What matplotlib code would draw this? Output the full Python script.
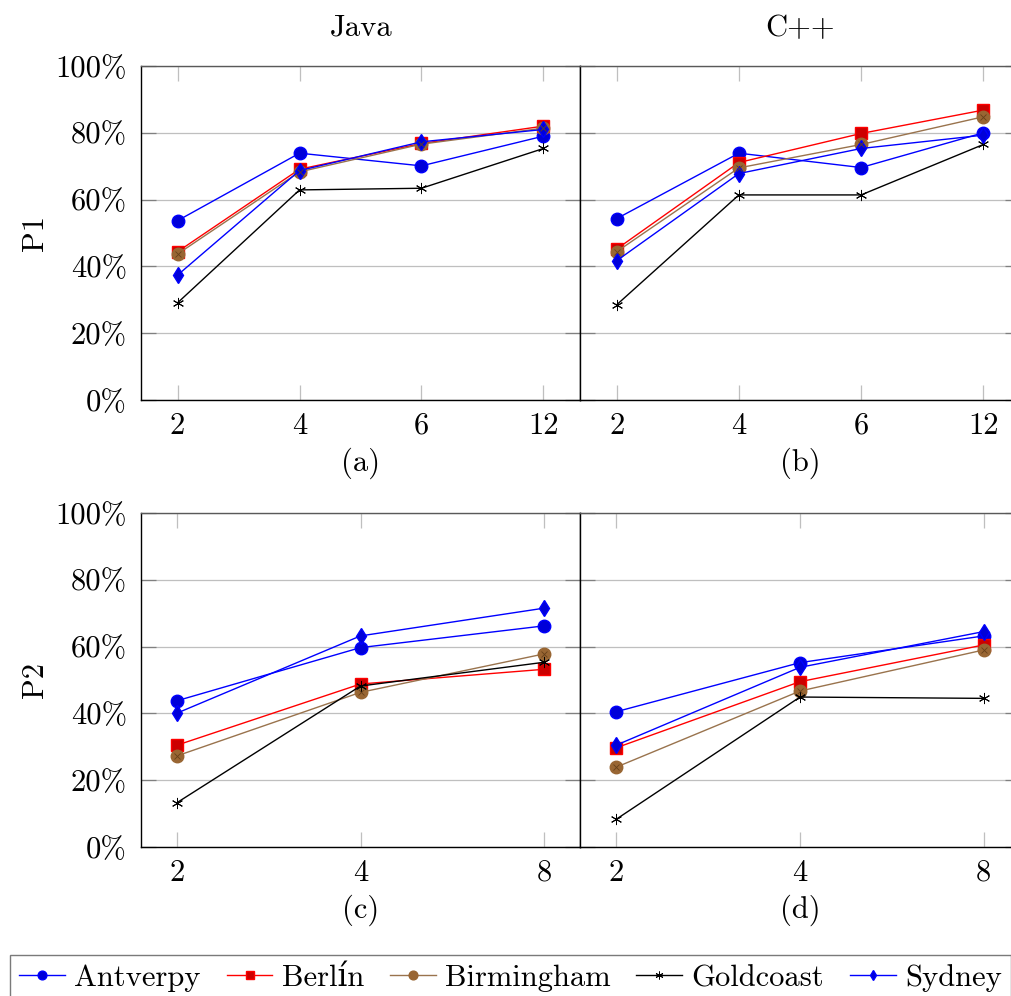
import numpy as np
import matplotlib
matplotlib.use('Agg')
import matplotlib.pyplot as plt
from matplotlib.lines import Line2D

plt.rcParams['font.family'] = ['cmr10', 'DejaVu Serif']
plt.rcParams['mathtext.fontset'] = 'cm'
plt.rcParams['axes.formatter.use_mathtext'] = True

# data (in %)
cities = ['Antverpy', 'Berlín', 'Birmingham', 'Goldcoast', 'Sydney']
p1_labels = ['2', '4', '6', '12']
p2_labels = ['2', '4', '8']

java_p1 = {
    'Antverpy':   [53.7, 73.9, 70.1, 79.0],
    'Berlín':     [44.4, 69.1, 76.8, 82.0],
    'Birmingham': [43.7, 68.3, 76.6, 81.4],
    'Goldcoast':  [29.1, 62.9, 63.4, 75.3],
    'Sydney':     [37.4, 68.7, 77.3, 81.0],
}
cpp_p1 = {
    'Antverpy':   [54.3, 73.9, 69.6, 80.0],
    'Berlín':     [45.2, 71.1, 79.8, 86.8],
    'Birmingham': [44.4, 69.5, 76.5, 84.8],
    'Goldcoast':  [28.5, 61.4, 61.4, 76.5],
    'Sydney':     [41.7, 67.8, 75.3, 79.3],
}
java_p2 = {
    'Antverpy':   [43.8, 59.7, 66.2],
    'Berlín':     [30.5, 48.8, 53.2],
    'Birmingham': [27.3, 46.3, 57.8],
    'Goldcoast':  [13.3, 48.2, 55.3],
    'Sydney':     [40.1, 63.2, 71.5],
}
cpp_p2 = {
    'Antverpy':   [40.5, 55.2, 63.2],
    'Berlín':     [29.7, 49.5, 60.5],
    'Birmingham': [23.9, 46.7, 59.0],
    'Goldcoast':  [8.3, 44.9, 44.5],
    'Sydney':     [30.5, 53.8, 64.5],
}

# styles
styles = {
    'Antverpy':   dict(color=(0, 0, 1), marker='o', mfc=(0, 0, 0.85), mec=(0, 0, 1), ms=9, mew=1.0),
    'Berlín':     dict(color=(1, 0, 0), marker='s', mfc=(0.8, 0, 0), mec=(1, 0, 0), ms=8.5, mew=1.0),
    'Birmingham': dict(color=(0.6, 0.45, 0.3), marker='o', mfc=(0.6, 0.4, 0.2), mec=(0.6, 0.4, 0.2), ms=9, mew=1.0),
    'Goldcoast':  dict(color='black', marker=(6, 2, 0), mfc='black', mec='black', ms=8, mew=0.7),
    'Sydney':     dict(color=(0, 0, 1), marker='d', mfc=(0, 0, 0.85), mec=(0, 0, 1), ms=8, mew=1.0),
}

FS = 22
W, H = 1011, 996
fig = plt.figure(figsize=(W / 100, H / 100), dpi=100)


def make_ax(x0, y0, x1, y1):
    return fig.add_axes([x0 / W, 1 - y1 / H, (x1 - x0) / W, (y1 - y0) / H])


def draw(ax, data, labels, show_y):
    x = np.arange(len(labels))
    for c in cities:
        st = styles[c]
        ax.plot(x, data[c], color=st['color'], lw=1.0, marker=st['marker'],
                ms=st['ms'], mfc=st['mfc'], mec=st['mec'], mew=st['mew'], zorder=3)
        if c == 'Birmingham':
            ax.plot(x, data[c], ls='none', marker='x', ms=5, mec=(0.4, 0.25, 0.1),
                    mew=0.6, zorder=4)
    pad = 0.3 if len(labels) == 4 else 0.197
    ax.set_xlim(-pad, len(labels) - 1 + pad)
    ax.set_ylim(0, 100)
    ax.set_xticks(x)
    ax.set_xticklabels(labels)
    ax.set_yticks(np.arange(0, 101, 20))
    if show_y:
        ax.set_yticklabels(['%d%%' % v for v in range(0, 101, 20)])
    else:
        ax.set_yticklabels([])
    ax.grid(axis='y', color='0.75', lw=0.9, zorder=0)
    ax.tick_params(axis='x', direction='in', length=11, width=0.9, color='0.75',
                   top=True, labelsize=FS, pad=9)
    ax.tick_params(axis='y', direction='in', length=11, width=0.9, color='0.5',
                   right=True, labelsize=FS, pad=10)
    for s in ax.spines.values():
        s.set_color('black')
        s.set_linewidth(1.0)
    ax.spines['top'].set_color('0.35')


axa = make_ax(141, 66, 580, 400)
axb = make_ax(580, 66, 1020, 400)
axc = make_ax(141, 513, 580, 847)
axd = make_ax(580, 513, 1020, 847)

draw(axa, java_p1, p1_labels, True)
draw(axb, cpp_p1, p1_labels, False)
draw(axc, java_p2, p2_labels, True)
draw(axd, cpp_p2, p2_labels, False)

fig.text(361 / W, 1 - 28 / H, 'Java', ha='center', va='center', fontsize=FS)
fig.text(800 / W, 1 - 28 / H, 'C++', ha='center', va='center', fontsize=FS)
fig.text(361 / W, 1 - 463 / H, '(a)', ha='center', va='center', fontsize=FS)
fig.text(800 / W, 1 - 463 / H, '(b)', ha='center', va='center', fontsize=FS)
fig.text(361 / W, 1 - 910 / H, '(c)', ha='center', va='center', fontsize=FS)
fig.text(800 / W, 1 - 910 / H, '(d)', ha='center', va='center', fontsize=FS)
fig.text(35 / W, 1 - 233 / H, 'P1', ha='center', va='center', rotation=90, fontsize=FS)
fig.text(35 / W, 1 - 680 / H, 'P2', ha='center', va='center', rotation=90, fontsize=FS)

handles = []
for c in cities:
    st = styles[c]
    handles.append(Line2D([], [], color=st['color'], lw=1.0, marker=st['marker'],
                          ms=st['ms'] * 0.7, mfc=st['mfc'], mec=st['mec'], mew=st['mew']))
leg = fig.legend(handles, cities, loc='upper left', bbox_to_anchor=(10 / W, 1 - 955 / H),
                 ncol=5, fontsize=FS, frameon=True, fancybox=False, handlelength=1.5,
                 handletextpad=0.3, columnspacing=0.85, borderpad=0.3, borderaxespad=0)
leg.get_frame().set_edgecolor('0.35')
leg.get_frame().set_linewidth(1.0)

fig.savefig('out.png', dpi=100)
